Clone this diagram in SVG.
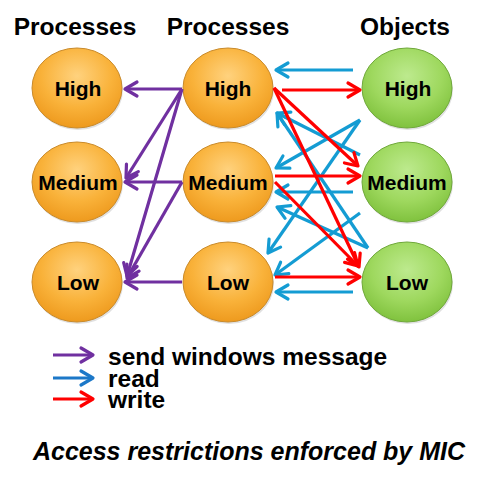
<svg xmlns="http://www.w3.org/2000/svg" width="488" height="482" viewBox="0 0 488 482">
<defs>
<radialGradient id="gOr" cx="50%" cy="35%" r="65%">
<stop offset="0" stop-color="#FFD27E"/>
<stop offset="0.6" stop-color="#F9B23A"/>
<stop offset="1" stop-color="#EE9A1E"/>
</radialGradient>
<radialGradient id="gGr" cx="50%" cy="35%" r="65%">
<stop offset="0" stop-color="#BDEA8E"/>
<stop offset="0.6" stop-color="#9ED85E"/>
<stop offset="1" stop-color="#80C23E"/>
</radialGradient>
<marker id="aP" markerUnits="userSpaceOnUse" markerWidth="24" markerHeight="24" viewBox="-16 -12 20 24" refX="0" refY="0" orient="auto"><path d="M-12,-7 L0,0 L-12,7" fill="none" stroke="#7030A0" stroke-width="3.2" stroke-linecap="round" stroke-linejoin="round"/></marker>
<marker id="aB" markerUnits="userSpaceOnUse" markerWidth="24" markerHeight="24" viewBox="-16 -12 20 24" refX="0" refY="0" orient="auto"><path d="M-12,-7 L0,0 L-12,7" fill="none" stroke="#149CD3" stroke-width="3.2" stroke-linecap="round" stroke-linejoin="round"/></marker>
<marker id="aB2" markerUnits="userSpaceOnUse" markerWidth="24" markerHeight="24" viewBox="-16 -12 20 24" refX="0" refY="0" orient="auto"><path d="M-12,-7 L0,0 L-12,7" fill="none" stroke="#1C78C8" stroke-width="3.2" stroke-linecap="round" stroke-linejoin="round"/></marker>
<marker id="aR" markerUnits="userSpaceOnUse" markerWidth="24" markerHeight="24" viewBox="-16 -12 20 24" refX="0" refY="0" orient="auto"><path d="M-12,-7 L0,0 L-12,7" fill="none" stroke="#FF0000" stroke-width="3.2" stroke-linecap="round" stroke-linejoin="round"/></marker>
</defs>
<style>
text{font-family:"Liberation Sans",Arial,sans-serif;font-weight:bold;fill:#000}
.title{font-size:24.5px;text-anchor:middle}
.lbl{font-size:21px;text-anchor:middle}
.leg{font-size:24.5px}
.cap{font-size:25px;font-style:italic;text-anchor:middle}
.shadow{fill:#000;opacity:0.12}
.or{fill:url(#gOr);stroke:#C98A2A;stroke-width:1}
.gr{fill:url(#gGr);stroke:#6FA83A;stroke-width:1}
.p{stroke:#7030A0;stroke-width:3.2;fill:none;marker-end:url(#aP)}
.b{stroke:#149CD3;stroke-width:3.2;fill:none;marker-end:url(#aB)}
.b2{stroke:#1C78C8;stroke-width:3.2;fill:none;marker-end:url(#aB2)}
.r{stroke:#FF0000;stroke-width:3.2;fill:none;marker-end:url(#aR)}
</style>
<rect width="488" height="482" fill="#fff"/>
<g id="titles">
<text class="title" x="75" y="35">Processes</text>
<text class="title" x="228" y="35">Processes</text>
<text class="title" x="405" y="35">Objects</text>
</g>
<g id="proc-left-high"><ellipse class="shadow" cx="78" cy="90" rx="45" ry="40"/><ellipse class="or" cx="77" cy="88" rx="45" ry="40"/><text class="lbl" x="78" y="96">High</text></g>
<g id="proc-left-medium"><ellipse class="shadow" cx="78" cy="184" rx="45" ry="40"/><ellipse class="or" cx="77" cy="182" rx="45" ry="40"/><text class="lbl" x="78" y="190">Medium</text></g>
<g id="proc-left-low"><ellipse class="shadow" cx="78" cy="284" rx="45" ry="40"/><ellipse class="or" cx="77" cy="282" rx="45" ry="40"/><text class="lbl" x="78" y="290">Low</text></g>
<g id="proc-mid-high"><ellipse class="shadow" cx="229" cy="90" rx="45" ry="40"/><ellipse class="or" cx="228" cy="88" rx="45" ry="40"/><text class="lbl" x="228" y="96">High</text></g>
<g id="proc-mid-medium"><ellipse class="shadow" cx="229" cy="184" rx="45" ry="40"/><ellipse class="or" cx="228" cy="182" rx="45" ry="40"/><text class="lbl" x="228" y="190">Medium</text></g>
<g id="proc-mid-low"><ellipse class="shadow" cx="229" cy="284" rx="45" ry="40"/><ellipse class="or" cx="228" cy="282" rx="45" ry="40"/><text class="lbl" x="228" y="290">Low</text></g>
<g id="obj-high"><ellipse class="shadow" cx="408" cy="90" rx="45" ry="40"/><ellipse class="gr" cx="407" cy="88" rx="45" ry="40"/><text class="lbl" x="408" y="96">High</text></g>
<g id="obj-medium"><ellipse class="shadow" cx="408" cy="184" rx="45" ry="40"/><ellipse class="gr" cx="407" cy="182" rx="45" ry="40"/><text class="lbl" x="407" y="190">Medium</text></g>
<g id="obj-low"><ellipse class="shadow" cx="408" cy="284" rx="45" ry="40"/><ellipse class="gr" cx="407" cy="282" rx="45" ry="40"/><text class="lbl" x="407" y="290">Low</text></g>
<g id="connectors">
<path class="p" d="M182,89 L125,89"/>
<path class="p" d="M182,89 L126,178"/>
<path class="p" d="M182,89 L127,276"/>
<path class="p" d="M182,182 L125,182"/>
<path class="p" d="M182,182 L127,278"/>
<path class="p" d="M182,282 L125,282"/>
<path class="b" d="M353,70 L276,70"/>
<path class="b" d="M360,155 L277,113"/>
<path class="b" d="M368,248 L277,113"/>
<path class="b" d="M360,120 L276,168"/>
<path class="b" d="M353,192 L276,192"/>
<path class="b" d="M368,248 L277,207"/>
<path class="b" d="M360,120 L268,253"/>
<path class="b" d="M360,213 L275,275"/>
<path class="b" d="M353,292 L276,292"/>
<path class="r" d="M282,90 L360,90"/>
<path class="r" d="M274,88 L358,166"/>
<path class="r" d="M274,88 L359,267"/>
<path class="r" d="M275,176 L360,176"/>
<path class="r" d="M275,182 L358,266"/>
<path class="r" d="M275,277 L360,277"/>
</g>
<g id="legend">
<path class="p" d="M53,355 L93,355"/>
<path class="b2" d="M53,378 L93,378"/>
<path class="r" d="M53,399 L93,399"/>
<text class="leg" x="108" y="365">send windows message</text>
<text class="leg" x="108" y="387">read</text>
<text class="leg" x="108" y="408">write</text>
</g>
<text class="cap" x="249" y="460">Access restrictions enforced by MIC</text>
</svg>
